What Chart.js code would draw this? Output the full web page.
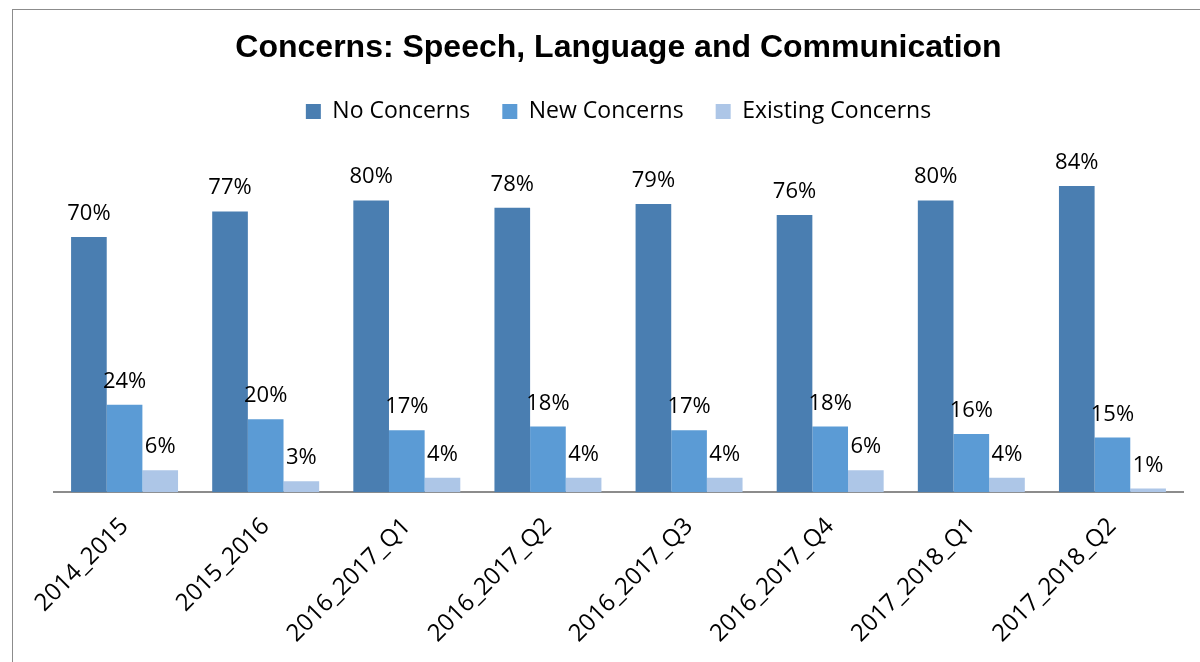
<!DOCTYPE html>
<html>
<head>
<meta charset="utf-8">
<script src="https://cdn.jsdelivr.net/npm/chart.js@4/dist/chart.umd.min.js"></script>
<style>
  html, body { margin: 0; padding: 0; background: #fff; overflow: hidden; }
  #wrap { position: relative; width: 1200px; height: 662px; }
  #frame { position: absolute; left: 12px; top: 9px; width: 1300px; height: 800px; border: 1px solid #8c8c8c; box-sizing: border-box; }
  #myChart { position: absolute; left: 0; top: 0; }
</style>
</head>
<body>
<div id="wrap">
  <div id="frame"></div>
  <canvas id="myChart" width="1200" height="662"></canvas>
</div>
<script>
"use strict";

const periods = ['2014_2015', '2015_2016', '2016_2017_Q1', '2016_2017_Q2', '2016_2017_Q3', '2016_2017_Q4', '2017_2018_Q1', '2017_2018_Q2'];
const noConcerns = [70, 77, 80, 78, 79, 76, 80, 84];
const newConcerns = [24, 20, 17, 18, 17, 18, 16, 15];
const existingConcerns = [6, 3, 4, 4, 4, 6, 4, 1];

const labelFont = '"Open Sans", "DejaVu Sans", sans-serif';

// draws the % value above each bar
const barLabels = {
  id: 'barLabels',
  afterDatasetsDraw(chart) {
    const ctx = chart.ctx;
    ctx.save();
    ctx.font = '22px ' + labelFont;
    ctx.fillStyle = '#000';
    ctx.textAlign = 'center';
    ctx.textBaseline = 'alphabetic';
    chart.data.datasets.forEach(function(ds, i) {
      const meta = chart.getDatasetMeta(i);
      meta.data.forEach(function(bar, j) {
        ctx.fillText(ds.data[j] + '%', bar.x, bar.y - 17);
      });
    });
    ctx.restore();
  }
};

var ctx = document.getElementById("myChart").getContext("2d");
new Chart(ctx, {
  type: 'bar',
  data: {
    labels: periods,
    datasets: [
      { label: 'No Concerns', data: noConcerns, backgroundColor: '#4a7eb1' },
      { label: 'New Concerns', data: newConcerns, backgroundColor: '#5b9bd5' },
      { label: 'Existing Concerns', data: existingConcerns, backgroundColor: '#adc6e7' }
    ]
  },
  options: {
    responsive: false,
    animation: false,
    layout: { padding: { left: 54, right: 17, top: 0, bottom: 2 } },
    datasets: {
      bar: { categoryPercentage: 0.758, barPercentage: 1.0 }
    },
    plugins: {
      title: {
        display: true,
        text: 'Concerns: Speech, Language and Communication',
        color: '#000',
        font: { family: '"Liberation Sans", Arial, sans-serif', size: 32, weight: 'bold', lineHeight: 1.0 },
        padding: { top: 32, bottom: 4 }
      },
      legend: {
        display: true,
        position: 'top',
        labels: {
          color: '#000',
          boxWidth: 15,
          boxHeight: 15,
          padding: 32,
          font: { family: labelFont, size: 23 }
        }
      },
      tooltip: { enabled: false }
    },
    scales: {
      x: {
        grid: { display: false },
        border: { display: true, color: '#8c8c8c', width: 2 },
        ticks: {
          color: '#000',
          font: { family: labelFont, size: 24 },
          maxRotation: 45,
          minRotation: 45,
          autoSkip: false,
          padding: 12
        }
      },
      y: {
        display: false,
        min: 0,
        max: 98.5
      }
    }
  },
  plugins: [barLabels]
});
</script>
</body>
</html>
